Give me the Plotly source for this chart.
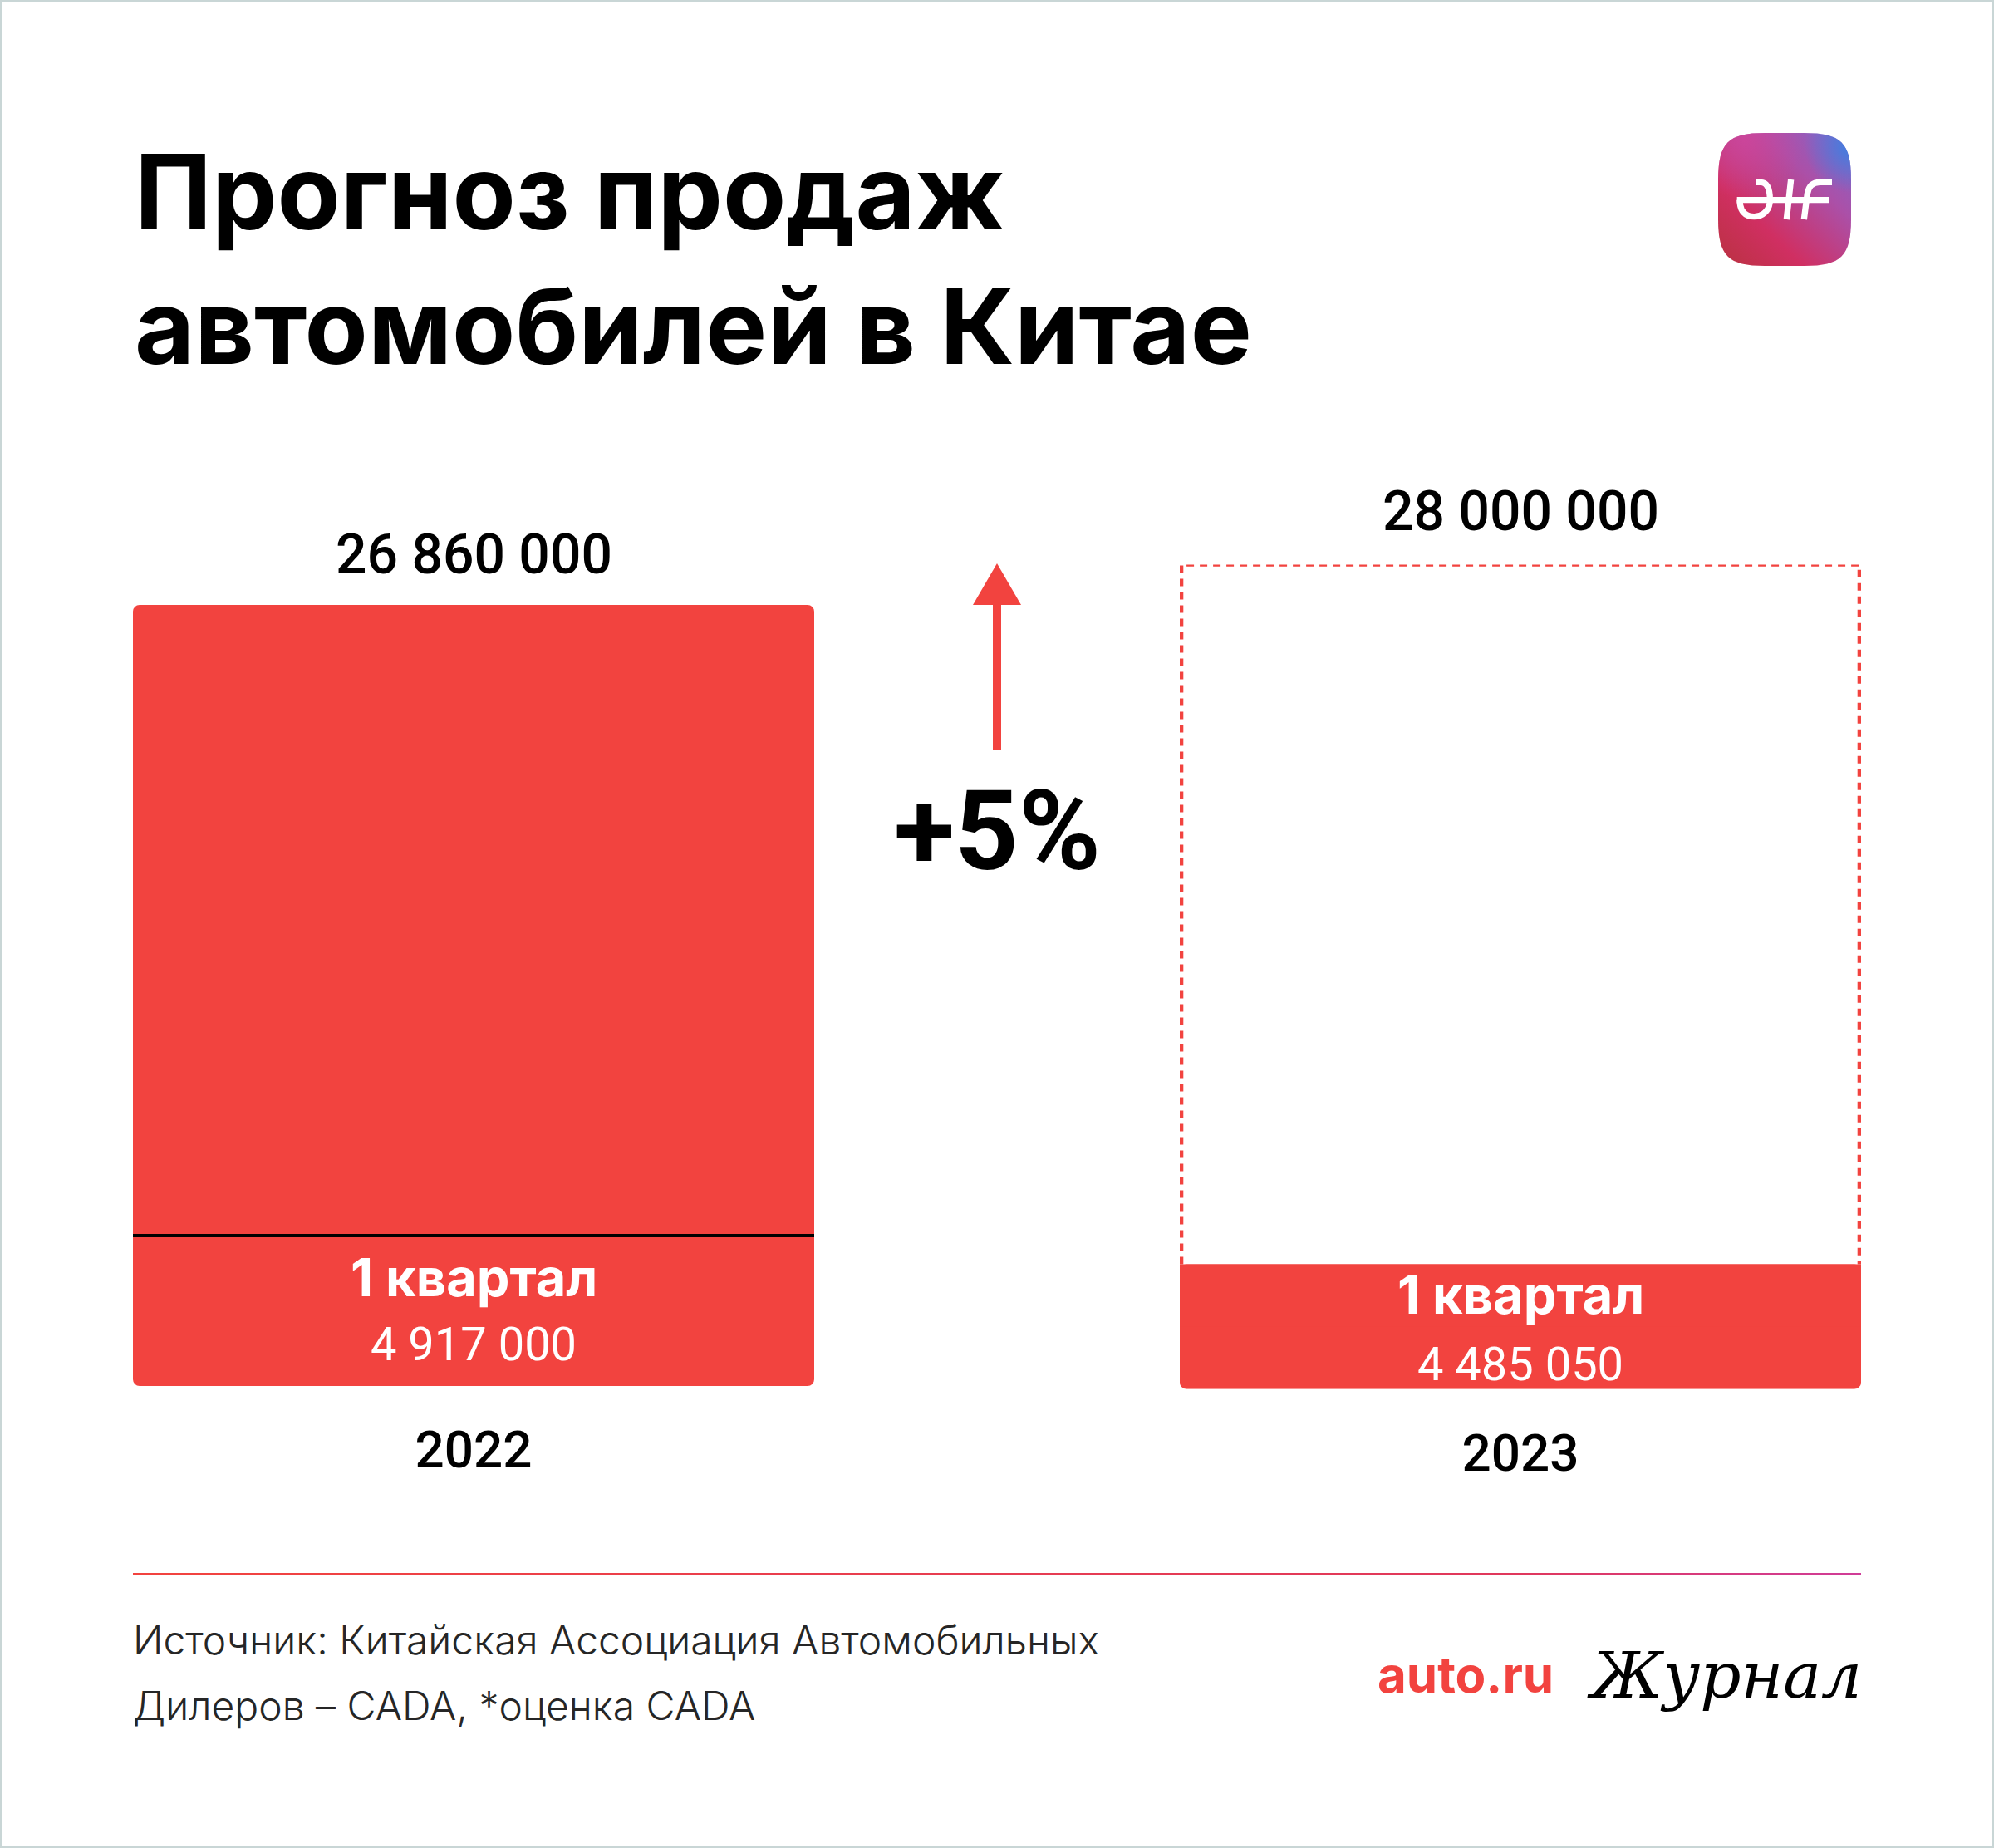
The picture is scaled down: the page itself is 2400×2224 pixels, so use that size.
import base64

import plotly.graph_objects as go
from plotly.subplots import make_subplots

W = 2400
H = 2224

RED = "#f2433f"

YEARS = ["2022", "2023"]
TOTALS = [26860000, 28000000]
TOTAL_LABELS = ["26 860 000", "28 000 000"]
# drawn height of the q1 block, it is not exactly to scale with its label
Q1_DRAWN = [5170000, 4240000]
Q1_LABELS = ["4 917 000", "4 485 050"]
Q1_TITLE = "1 квартал"
CHANGE_LABEL = "+5%"
TITLE_LINES = ["Прогноз продаж", "автомобилей в Китае"]
SOURCE_LINES = ["Источник: Китайская Ассоциация Автомобильных", "Дилеров – CADA, *оценка CADA"]

FONT = "Inter"
NUM_FONT = "Roboto"


def px_x(v):
    return v / W


def px_y(v):
    return 1 - v / H


def svg_uri(svg):
    return "data:image/svg+xml;base64," + base64.b64encode(svg.encode("utf-8")).decode("ascii")


ICON_SVG = """<svg xmlns="http://www.w3.org/2000/svg" width="160" height="160" viewBox="0 0 160 160">
<defs>
<linearGradient id="a" x1="0" y1="1" x2="1" y2="0">
<stop offset="0" stop-color="#b93240"/><stop offset="0.32" stop-color="#d02f62"/>
<stop offset="0.68" stop-color="#ab50a8"/><stop offset="1" stop-color="#8068cc"/>
</linearGradient>
<radialGradient id="b" cx="1" cy="0.1" r="0.35">
<stop offset="0" stop-color="#3f7fe0"/><stop offset="1" stop-color="#3f7fe0" stop-opacity="0"/>
</radialGradient>
<radialGradient id="c" cx="0.2" cy="0.05" r="0.45">
<stop offset="0" stop-color="#d0459c" stop-opacity="0.8"/><stop offset="1" stop-color="#d0459c" stop-opacity="0"/>
</radialGradient>
<path id="s" d="M0 56 C0 12 12 0 56 0 H104 C148 0 160 12 160 56 V104 C160 148 148 160 104 160 H56 C12 160 0 148 0 104 Z"/>
</defs>
<use href="#s" fill="url(#a)"/><use href="#s" fill="url(#c)"/><use href="#s" fill="url(#b)"/>
<g transform="scale(0.3333) translate(-205,-90)" fill="none" stroke="#fff" stroke-width="22">
<path d="M340 268 H358 C385 268 392 300 392 332 C392 370 365 392 335 392 C300 392 283 370 283 332"/>
<path d="M273 332 H605"/>
<path d="M468 258 L452 402"/>
<path d="M616 268 H572 C545 268 531 285 527 310 L515 402"/>
</g>
</svg>"""

RULE_SVG = """<svg xmlns="http://www.w3.org/2000/svg" width="2080" height="3" viewBox="0 0 2080 3" preserveAspectRatio="none">
<defs><linearGradient id="r"><stop offset="0" stop-color="#f2433f"/><stop offset="0.8" stop-color="#e0385c"/><stop offset="1" stop-color="#d03c98"/></linearGradient></defs>
<rect width="2080" height="3" fill="url(#r)"/></svg>"""

fig = make_subplots(rows=1, cols=2)

# pixel boxes of the two columns: left, right, bar top, bar bottom
BOXES = [(160, 980, 728, 1668), (1420, 2240, 679.5, 1671.7)]

# 2022 is one solid bar, rounded on all corners
fig.add_trace(go.Bar(x=[YEARS[0]], y=[TOTALS[0]], base=[0], marker_color=RED, marker_line_width=0,
                     width=1, showlegend=False), row=1, col=1)

# 2023 only fills q1: rounded bar, then a square one over its upper half to hide the top corners
fig.add_trace(go.Bar(x=[YEARS[1]], y=[Q1_DRAWN[1]], base=[0], marker_color=RED, marker_line_width=0,
                     width=1, showlegend=False), row=1, col=2)
fig.add_trace(go.Bar(x=[YEARS[1]], y=[Q1_DRAWN[1] / 2], base=[Q1_DRAWN[1] / 2], marker_color=RED,
                     marker_line_width=0, marker_cornerradius=0, width=1, showlegend=False), row=1, col=2)

# black line between q1 and the rest of 2022
fig.add_trace(go.Scatter(x=[-0.5, 0.5], y=[Q1_DRAWN[0], Q1_DRAWN[0]], mode="lines", xaxis="x3", yaxis="y",
                         line=dict(color="#000000", width=4), showlegend=False))

# dashed outline for the 2023 forecast
fig.add_trace(go.Scatter(x=[-0.4975, -0.4975, 0.4975, 0.4975], y=[Q1_DRAWN[1], TOTALS[1], TOTALS[1], Q1_DRAWN[1]],
                         mode="lines", xaxis="x4", yaxis="y2",
                         line=dict(color=RED, width=4.5, dash="9px,7px"), showlegend=False))

fig.update_layout(
    width=W,
    height=H,
    margin=dict(l=0, r=0, t=0, b=0),
    paper_bgcolor="#ffffff",
    plot_bgcolor="rgba(0,0,0,0)",
    barmode="overlay",
    barcornerradius=8,
    showlegend=False,
    font=dict(family=FONT, color="#000000"),
)

for i in range(2):
    left, right, top, bottom = BOXES[i]
    xname = "xaxis" if i == 0 else "xaxis2"
    yname = "yaxis" if i == 0 else "yaxis2"
    fig.update_layout({
        xname: dict(domain=[px_x(left), px_x(right)], type="category", range=[-0.5, 0.5],
                    showgrid=False, zeroline=False, showline=False,
                    ticks="outside", ticklen=23, tickcolor="rgba(0,0,0,0)",
                    tickfont=dict(family=NUM_FONT, size=62, color="#000000", weight=500)),
        yname: dict(domain=[px_y(bottom), px_y(top)], range=[0, TOTALS[i]],
                    visible=False, fixedrange=True),
    })

# helper x axes in plain numbers, for the lines drawn over the category bars
fig.update_layout(
    xaxis3=dict(domain=[px_x(BOXES[0][0]), px_x(BOXES[0][1])], range=[-0.5, 0.5], visible=False, anchor="y", overlaying="x"),
    xaxis4=dict(domain=[px_x(BOXES[1][0]), px_x(BOXES[1][1])], range=[-0.5, 0.5], visible=False, anchor="y2", overlaying="x2"),
)
fig.update_traces(cliponaxis=False, selector=dict(type="scatter"))

anns = []


def text_at(x, y, text, size, color="#000000", weight=400, anchor="center", family=FONT, style="normal"):
    anns.append(dict(x=px_x(x), y=px_y(y), xref="paper", yref="paper", text=text, showarrow=False,
                     xanchor=anchor, yanchor="middle",
                     font=dict(family=family, size=size, color=color, weight=weight, style=style)))


for line, y in zip(TITLE_LINES, [230, 392]):
    text_at(160, y, line, 124.5, weight=700, anchor="left")

centers = [570, 1830]

# totals above their bars
total_y = [667, 615]
for i in range(2):
    text_at(centers[i], total_y[i], TOTAL_LABELS[i], 66, weight=500, family=NUM_FONT)

q1_title_y = [1537, 1558]
q1_value_y = [1618, 1642]
for i in range(2):
    text_at(centers[i], q1_title_y[i], Q1_TITLE, 63, color="#ffffff", weight=700)
    text_at(centers[i], q1_value_y[i], Q1_LABELS[i], 56, color="#ffffff", weight=400, family=NUM_FONT)

text_at(1200, 1001, CHANGE_LABEL, 134, weight=700, family=NUM_FONT)

for line, y in zip(SOURCE_LINES, [1973, 2052]):
    text_at(158, y, line, 48, color="#262626", weight=300, anchor="left")

text_at(1656, 2015, "auto.ru", 60, color=RED, weight=700, anchor="left")
text_at(1908, 2016, "Журнал", 77, weight=400, anchor="left", family="DejaVu Serif", style="italic")

fig.update_layout(annotations=anns)

# arrow: stem and head
fig.add_shape(type="rect", xref="paper", yref="paper", x0=px_x(1195), x1=px_x(1205), y0=px_y(903), y1=px_y(725),
              fillcolor=RED, line_width=0)
fig.add_shape(type="path", xref="paper", yref="paper",
              path=f"M {px_x(1171)} {px_y(728)} L {px_x(1200)} {px_y(678)} L {px_x(1229)} {px_y(728)} Z",
              fillcolor=RED, line_width=0)

# thin frame round the card
fig.add_shape(type="rect", xref="paper", yref="paper", x0=0, x1=1, y0=0, y1=1,
              line=dict(color="#c9d6d6", width=4), fillcolor="rgba(0,0,0,0)")

fig.update_layout(images=[
    dict(source=svg_uri(ICON_SVG), xref="paper", yref="paper", x=px_x(2068), y=px_y(160),
         sizex=160 / W, sizey=160 / H, xanchor="left", yanchor="top", sizing="stretch", layer="above"),
    dict(source=svg_uri(RULE_SVG), xref="paper", yref="paper", x=px_x(160), y=px_y(1893),
         sizex=2080 / W, sizey=3 / H, xanchor="left", yanchor="top", sizing="stretch", layer="above"),
])

fig.write_html("out.html", config={"displayModeBar": False}, post_script="document.body.style.margin='0';")
